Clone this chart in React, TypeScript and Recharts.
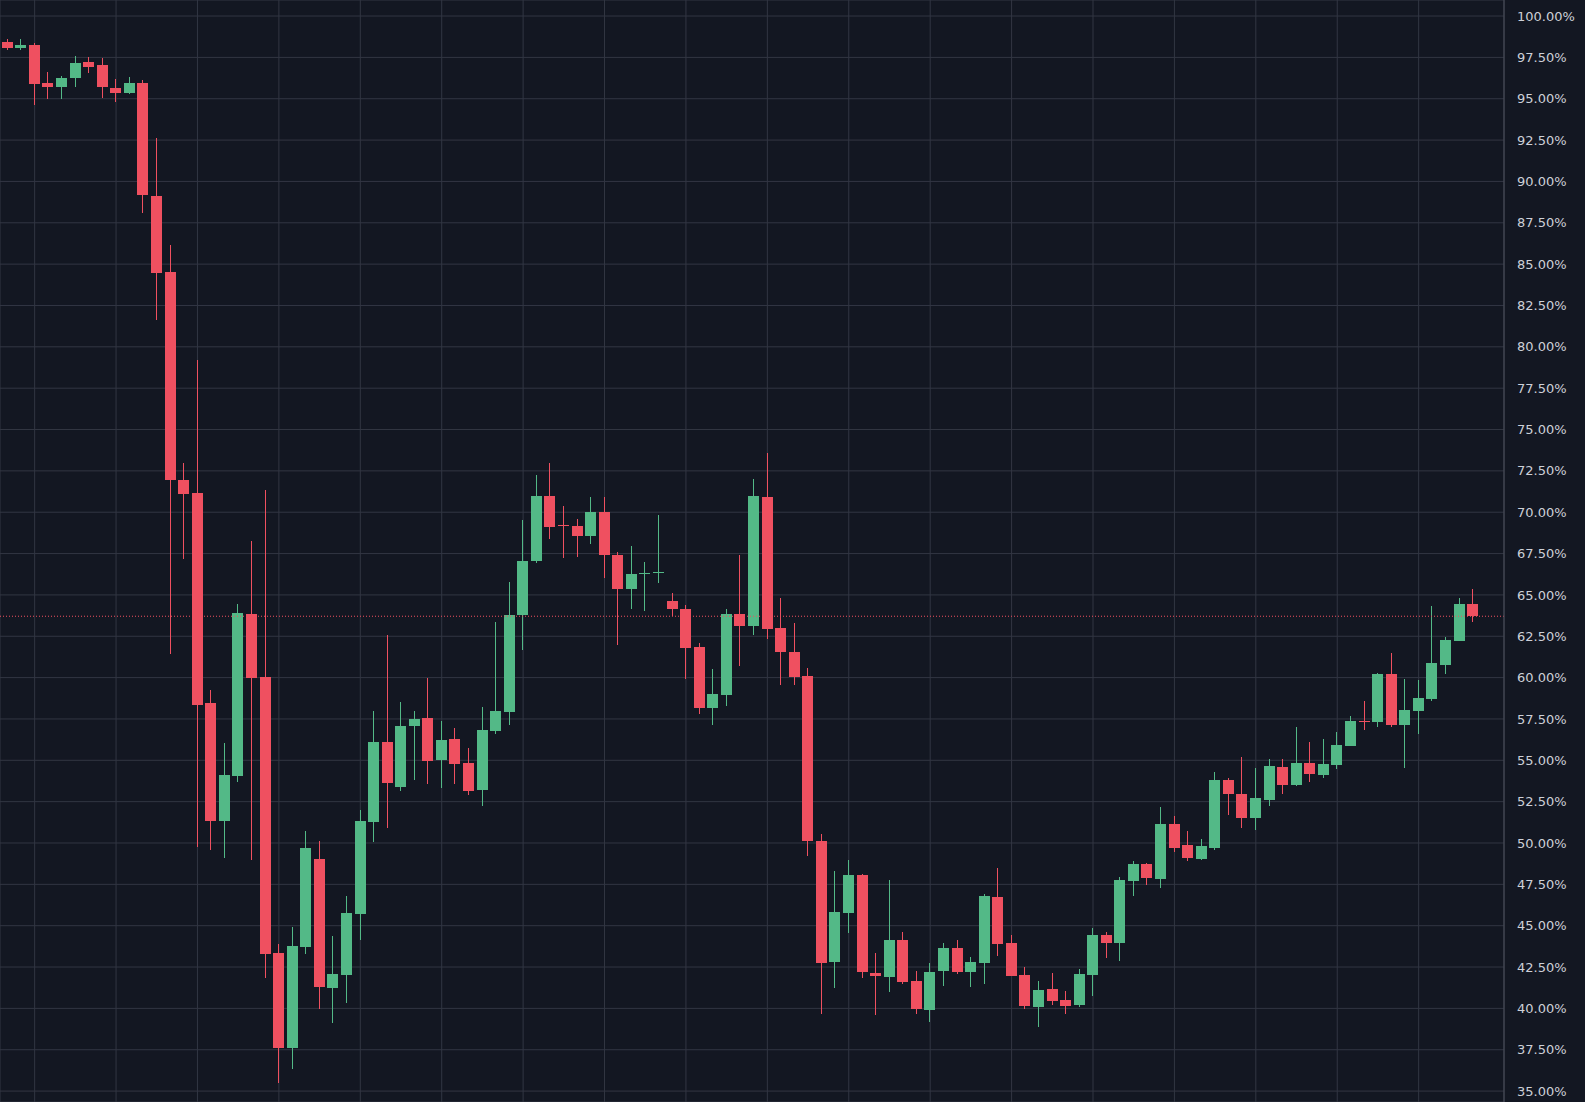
import React from 'react';
import { ComposedChart, Bar, XAxis, YAxis, CartesianGrid, ReferenceLine } from 'recharts';

const opens = [
  98.43, 98.09, 98.25, 95.93, 95.71, 96.26, 97.22, 97.03, 95.63, 95.33,
  95.93, 89.10, 84.50, 71.97, 71.19, 58.45, 51.35, 54.06, 63.82, 60.03,
  43.35, 37.62, 43.72, 49.01, 41.23, 42.02, 45.71, 51.27, 56.09, 53.39,
  57.08, 57.54, 55.02, 56.27, 54.82, 53.21, 56.76, 57.94, 63.81, 67.08,
  71.01, 69.25, 69.19, 68.59, 70.04, 67.44, 65.38, 66.29, 66.35, 64.62,
  64.16, 61.87, 58.16, 58.95, 63.87, 63.15, 70.93, 63.02, 61.56, 60.10,
  50.15, 42.82, 45.79, 48.08, 42.16, 41.92, 44.15, 41.67, 39.92, 42.28,
  43.67, 42.22, 42.76, 46.75, 43.97, 42.04, 40.10, 41.19, 40.52, 40.22,
  42.04, 44.46, 43.97, 47.72, 48.75, 47.84, 51.17, 49.90, 49.05, 49.72,
  53.83, 52.98, 51.53, 52.62, 54.62, 53.53, 54.86, 54.13, 54.74, 55.89,
  57.40, 57.34, 60.24, 57.16, 58.00, 58.73, 60.79, 62.24, 64.48,
];
const highs = [
  98.62, 98.62, 98.35, 96.61, 96.40, 97.58, 97.52, 97.46, 96.18, 96.30,
  96.12, 92.63, 86.18, 73.00, 79.21, 59.24, 56.03, 64.44, 68.23, 71.32,
  43.90, 44.91, 50.72, 50.10, 44.35, 46.77, 51.98, 57.96, 62.56, 58.51,
  57.96, 60.00, 57.36, 56.94, 55.73, 58.21, 63.34, 65.81, 69.50, 72.28,
  73.00, 70.40, 69.62, 70.89, 70.95, 67.62, 67.98, 66.96, 69.86, 65.12,
  64.37, 62.12, 60.52, 64.12, 67.40, 72.00, 73.60, 64.79, 63.33, 60.60,
  50.56, 48.33, 48.99, 48.10, 43.37, 47.78, 44.64, 42.28, 42.76, 43.97,
  44.15, 43.12, 46.94, 48.51, 44.46, 42.52, 41.67, 42.16, 41.07, 42.40,
  44.88, 44.64, 47.96, 48.93, 48.77, 52.20, 51.65, 50.75, 50.26, 54.31,
  53.95, 55.22, 54.56, 55.10, 55.10, 57.04, 56.13, 56.31, 56.73, 57.70,
  58.61, 60.26, 61.51, 59.94, 59.88, 64.35, 62.48, 64.84, 65.38,
];
const lows = [
  97.97, 97.97, 94.61, 94.98, 94.98, 95.71, 96.57, 95.02, 94.78, 95.28,
  88.09, 81.60, 61.40, 67.20, 49.77, 49.57, 49.08, 53.71, 49.00, 41.85,
  35.47, 36.35, 43.30, 39.96, 39.11, 40.32, 44.13, 50.06, 50.91, 53.15,
  53.81, 53.57, 53.33, 53.57, 52.90, 52.24, 56.58, 57.16, 61.69, 66.95,
  68.41, 67.26, 67.32, 68.10, 66.05, 62.00, 64.17, 64.00, 65.69, 63.75,
  59.92, 57.80, 57.13, 58.28, 60.70, 62.59, 62.34, 59.56, 59.56, 49.20,
  39.68, 41.25, 44.58, 41.85, 39.62, 41.01, 41.49, 39.68, 39.19, 41.37,
  42.10, 41.31, 41.49, 43.19, 41.95, 39.98, 38.89, 40.22, 39.68, 40.10,
  40.77, 43.06, 42.88, 46.81, 47.48, 47.30, 49.48, 48.90, 48.99, 49.60,
  51.71, 50.93, 50.81, 52.26, 52.98, 53.47, 53.71, 53.95, 54.50, 55.85,
  56.85, 57.04, 57.04, 54.56, 56.61, 58.61, 60.24, 62.20, 63.35,
];
const closes = [
  98.09, 98.25, 95.89, 95.71, 96.24, 97.15, 96.93, 95.71, 95.33, 95.93,
  89.20, 84.45, 71.95, 71.13, 58.32, 51.35, 54.11, 63.90, 59.98, 43.26,
  37.62, 43.77, 49.69, 41.29, 42.06, 45.75, 51.31, 56.09, 53.63, 57.06,
  57.48, 54.96, 56.21, 54.78, 53.15, 56.81, 58.01, 63.81, 67.08, 71.01,
  69.13, 69.20, 68.59, 70.04, 67.44, 65.38, 66.29, 66.35, 66.41, 64.15,
  61.80, 58.16, 59.02, 63.87, 63.15, 70.97, 62.95, 61.56, 60.05, 50.10,
  42.76, 45.85, 48.08, 42.22, 41.98, 44.15, 41.61, 39.98, 42.22, 43.67,
  42.22, 42.82, 46.81, 43.91, 41.98, 40.16, 41.13, 40.46, 40.16, 42.10,
  44.46, 43.97, 47.78, 48.75, 47.90, 51.17, 49.72, 49.11, 49.84, 53.83,
  52.98, 51.53, 52.74, 54.68, 53.53, 54.86, 54.19, 54.80, 55.95, 57.40,
  57.34, 60.24, 57.16, 58.06, 58.79, 60.91, 62.30, 64.48, 63.71,
];

const sessions = opens.map((_, i) => i);
const priceTicks = [
  35, 37.5, 40, 42.5, 45, 47.5, 50, 52.5, 55, 57.5, 60, 62.5, 65, 67.5,
  70, 72.5, 75, 77.5, 80, 82.5, 85, 87.5, 90, 92.5, 95, 97.5, 100,
];
const gridSessions = [2, 8, 14, 20, 26, 32, 38, 44, 50, 56, 62, 68, 74, 80, 86, 92, 98, 104];
const lastClose = closes[closes.length - 1];

const UP = '#53b987';
const DOWN = '#ef5060';
const BG = '#131722';
const GRID = '#323643';

const data = sessions.map((i) => ({
  session: i,
  open: opens[i],
  high: highs[i],
  low: lows[i],
  close: closes[i],
  range: [lows[i], highs[i]],
}));

function Candle(props: any) {
  const { x, y, width, height, payload } = props;
  if (!payload || x == null || y == null || height == null) return null;
  const { open, close, high, low } = payload;
  const top = Math.min(y, y + height);
  const h = Math.abs(height);
  const span = high - low || 1;
  const pxPer = h / span;
  const yOf = (v: number) => top + (high - v) * pxPer;
  const up = close >= open;
  const color = up ? UP : DOWN;
  const bodyTop = yOf(Math.max(open, close));
  const bodyBottom = yOf(Math.min(open, close));
  const bodyH = Math.max(1, bodyBottom - bodyTop);
  const left = Math.round(x);
  const w = Math.round(width);
  const wickX = left + Math.floor(w / 2);
  return (
    <g shapeRendering="crispEdges">
      <rect x={wickX} y={top} width={1} height={Math.max(1, h)} fill={color} />
      <rect x={left} y={bodyTop} width={w} height={bodyH} fill={color} />
    </g>
  );
}

export default function App() {
  return (
    <div style={{ position: 'absolute', left: 0, top: 0, width: 1585, height: 1102, background: BG }}>
      <ComposedChart
        width={1585}
        height={1102}
        data={data}
        margin={{ top: 0, right: 0, bottom: 0, left: 0 }}
      >
        <CartesianGrid stroke={GRID} strokeWidth={1} vertical horizontal />
        <XAxis
          dataKey="session"
          type="number"
          domain={[-0.553, 110.29]}
          ticks={gridSessions}
          allowDataOverflow
          hide
        />
        <YAxis
          orientation="right"
          width={81}
          domain={[34.34, 100.97]}
          ticks={priceTicks}
          interval={0}
          allowDataOverflow
          tickFormatter={(v: number) => `${v.toFixed(2)}%`}
          tick={{ fill: '#cdd0d8', fontSize: 13, fontFamily: 'DejaVu Sans' }}
          tickLine={false}
          tickSize={0}
          tickMargin={13}
          axisLine={{ stroke: '#4a4e5a' }}
        />
        <ReferenceLine y={lastClose} stroke={DOWN} strokeWidth={1} strokeDasharray="1 2" />
        <Bar
          dataKey="range"
          barSize={11}
          isAnimationActive={false}
          shape={(p: any) => <Candle {...p} />}
        />
      </ComposedChart>
    </div>
  );
}
